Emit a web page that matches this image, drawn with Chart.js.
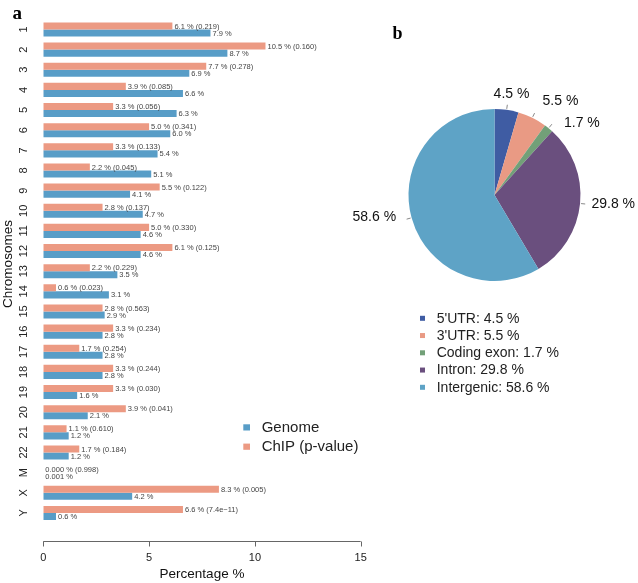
<!DOCTYPE html>
<html>
<head>
<meta charset="utf-8">
<script src="https://cdn.jsdelivr.net/npm/chart.js@4.4.0/dist/chart.umd.min.js"></script>
<style>
  html, body { margin: 0; padding: 0; background: #ffffff; }
  #wrap { position: relative; width: 638px; height: 583px; }
  #wrap canvas { position: absolute; left: 0; top: 0; }
</style>
</head>
<body>
<div id="wrap">
  <canvas id="bars" width="638" height="583"></canvas>
  <canvas id="pie" width="638" height="583"></canvas>
</div>
<script>
// ---------------- data (panel a) ----------------
const chromosomes = ['1','2','3','4','5','6','7','8','9','10','11','12','13','14','15','16','17','18','19','20','21','22','M','X','Y'];
const chipValues   = [6.1, 10.5, 7.7, 3.9, 3.3, 5.0, 3.3, 2.2, 5.5, 2.8, 5.0, 6.1, 2.2, 0.6, 2.8, 3.3, 1.7, 3.3, 3.3, 3.9, 1.1, 1.7, 0.000, 8.3, 6.6];
const chipPValues  = ['0.219','0.160','0.278','0.085','0.056','0.341','0.133','0.045','0.122','0.137','0.330','0.125','0.229','0.023','0.563','0.234','0.254','0.244','0.030','0.041','0.610','0.184','0.998','0.005','7.4e\u221211'];
const genomeValues = [7.9, 8.7, 6.9, 6.6, 6.3, 6.0, 5.4, 5.1, 4.1, 4.7, 4.6, 4.6, 3.5, 3.1, 2.9, 2.8, 2.8, 2.8, 1.6, 2.1, 1.2, 1.2, 0.001, 4.2, 0.6];
const xTicks = [0, 5, 10, 15];

// ---------------- data (panel b) ----------------
const regions = ["5'UTR", "3'UTR", 'Coding exon', 'Intron', 'Intergenic'];
const regionValues = [4.5, 5.5, 1.7, 29.8, 58.6];

// ---------------- styles ----------------
const SALMON = 'rgb(236,154,131)';
const BLUE = 'rgb(88,157,199)';
const pieColors = ['rgb(63,92,163)', 'rgb(233,154,132)', 'rgb(114,160,120)', 'rgb(106,79,126)', 'rgb(94,163,198)'];
const pieLabelNudges = [[3.7, -7.3], [24.4, -9.1], [27.8, 1.4], [24.6, -0.3], [-29, -2.9]];
const SANS = '"Liberation Sans", Arial, Helvetica, sans-serif';

function fmt(v) { return v < 0.05 ? v.toFixed(3) : v.toFixed(1); }

// ---------------- bar chart plugin ----------------
const barDecor = {
  id: 'barDecor',
  afterDraw(chart) {
    const ctx = chart.ctx;
    const xs = chart.scales.x, ys = chart.scales.y;
    ctx.save();
    // detached x axis line with downward ticks
    const axY = 541.5;
    ctx.strokeStyle = '#666';
    ctx.lineWidth = 1;
    ctx.beginPath();
    const x0 = xs.getPixelForValue(xTicks[0]), x1 = xs.getPixelForValue(xTicks[xTicks.length - 1]);
    ctx.moveTo(x0, axY); ctx.lineTo(x1, axY);
    xTicks.forEach(t => { const px = Math.round(xs.getPixelForValue(t)) + 0.5; ctx.moveTo(px, axY); ctx.lineTo(px, axY + 5); });
    ctx.stroke();

    // rotated chromosome labels
    ctx.fillStyle = '#222';
    ctx.font = '11px ' + SANS;
    ctx.textAlign = 'center';
    ctx.textBaseline = 'middle';
    chromosomes.forEach((c, i) => {
      const py = ys.getPixelForValue(i);
      ctx.save();
      ctx.translate(24, py);
      ctx.rotate(-Math.PI / 2);
      ctx.fillText(c, 0, 0);
      ctx.restore();
    });
    // y title
    ctx.save();
    ctx.font = '13.5px ' + SANS;
    ctx.fillStyle = '#111';
    ctx.translate(8.5, 264);
    ctx.rotate(-Math.PI / 2);
    ctx.fillText('Chromosomes', 0, 0);
    ctx.restore();

    // bar value labels
    ctx.font = '7.5px ' + SANS;
    ctx.fillStyle = '#444';
    ctx.textAlign = 'left';
    const m0 = chart.getDatasetMeta(0), m1 = chart.getDatasetMeta(1);
    m0.data.forEach((el, i) => {
      ctx.fillText(fmt(chipValues[i]) + ' % (' + chipPValues[i] + ')', el.x + 2, el.y + 0.5);
    });
    m1.data.forEach((el, i) => {
      ctx.fillText(fmt(genomeValues[i]) + ' %', el.x + 2, el.y + 0.5);
    });

    // legend
    ctx.font = '15px ' + SANS;
    ctx.fillStyle = '#222';
    ctx.textBaseline = 'middle';
    const legendItems = [[chart.data.datasets[1].label, BLUE], [chart.data.datasets[0].label, SALMON]];
    legendItems.forEach((it, k) => {
      const cy = 427.3 + k * 19.3;
      ctx.fillStyle = it[1];
      ctx.fillRect(243.3, cy - 3, 6.7, 6.2);
      ctx.fillStyle = '#222';
      ctx.fillText(it[0], 261.7, cy + 0.5);
    });

    // panel letter
    ctx.font = 'bold 19px "Liberation Serif", "Times New Roman", serif';
    ctx.fillStyle = '#000';
    ctx.textBaseline = 'alphabetic';
    ctx.fillText('a', 12.5, 18.5);
    ctx.restore();
  }
};

new Chart(document.getElementById('bars'), {
  type: 'bar',
  data: {
    labels: chromosomes,
    datasets: [
      { label: 'ChIP (p-value)', data: chipValues, backgroundColor: SALMON, borderWidth: 0 },
      { label: 'Genome', data: genomeValues, backgroundColor: BLUE, borderWidth: 0 }
    ]
  },
  options: {
    indexAxis: 'y',
    responsive: false,
    animation: false,
    layout: { padding: { left: 43.3, right: 277.3, top: 19.4, bottom: 0 } },
    datasets: { bar: { categoryPercentage: 0.7, barPercentage: 1.0 } },
    plugins: { legend: { display: false }, tooltip: { enabled: false } },
    scales: {
      y: { display: false },
      x: {
        min: 0, max: 15,
        afterBuildTicks: s => { s.ticks = xTicks.map(v => ({ value: v })); },
        afterFit: s => { s.height = 60; },
        grid: { display: false, drawTicks: false },
        border: { display: false },
        ticks: { padding: 28, color: '#222', font: { family: SANS, size: 11 } },
        title: { display: true, text: 'Percentage %', color: '#111', font: { family: SANS, size: 13.5 }, padding: { top: 0, bottom: 0.5 } }
      }
    }
  },
  plugins: [barDecor]
});

// ---------------- pie chart plugin ----------------
const pieDecor = {
  id: 'pieDecor',
  afterDraw(chart) {
    const ctx = chart.ctx;
    const meta = chart.getDatasetMeta(0);
    ctx.save();
    ctx.font = '14px ' + SANS;
    ctx.textAlign = 'center';
    ctx.textBaseline = 'middle';
    meta.data.forEach((arc, i) => {
      const mid = (arc.startAngle + arc.endAngle) / 2;
      const r = arc.outerRadius;
      const c = Math.cos(mid), s = Math.sin(mid);
      ctx.strokeStyle = '#888';
      ctx.lineWidth = 1;
      ctx.beginPath();
      ctx.moveTo(arc.x + c * (r + 1), arc.y + s * (r + 1));
      ctx.lineTo(arc.x + c * (r * 1.06), arc.y + s * (r * 1.06));
      ctx.stroke();
      const lx = arc.x + c * r * 1.1 + pieLabelNudges[i][0];
      const ly = arc.y + s * r * 1.1 + pieLabelNudges[i][1];
      ctx.fillStyle = '#111';
      ctx.fillText(regionValues[i].toFixed(1) + ' %', lx, ly);
    });
    // legend
    ctx.textAlign = 'left';
    regions.forEach((name, i) => {
      const cy = 318.3 + i * 17.25;
      ctx.fillStyle = pieColors[i];
      ctx.fillRect(420, cy - 2.5, 5, 5);
      ctx.fillStyle = '#222';
      ctx.fillText(name + ': ' + regionValues[i].toFixed(1) + ' %', 436.7, cy + 0.5);
    });
    // panel letter
    ctx.font = 'bold 18px "Liberation Serif", "Times New Roman", serif';
    ctx.fillStyle = '#000';
    ctx.textBaseline = 'alphabetic';
    ctx.fillText('b', 392.5, 39.3);
    ctx.restore();
  }
};

new Chart(document.getElementById('pie'), {
  type: 'pie',
  data: {
    labels: regions,
    datasets: [{ data: regionValues, backgroundColor: pieColors, borderWidth: 0 }]
  },
  options: {
    responsive: false,
    animation: false,
    layout: { padding: { left: 408.5, right: 57.5, top: 109, bottom: 302 } },
    plugins: { legend: { display: false }, tooltip: { enabled: false } }
  },
  plugins: [pieDecor]
});
</script>
</body>
</html>
